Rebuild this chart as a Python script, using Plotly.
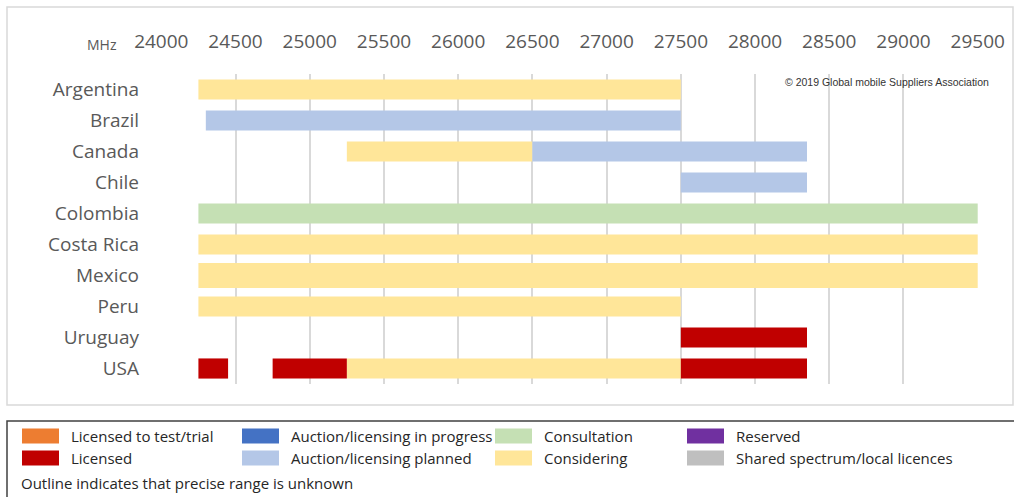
import plotly.graph_objects as go

countries = ["Argentina", "Brazil", "Canada", "Chile", "Colombia",
             "Costa Rica", "Mexico", "Peru", "Uruguay", "USA"]

# spectrum segments (MHz)
seg_country = ["Argentina", "Brazil", "Canada", "Canada", "Chile", "Colombia",
               "Costa Rica", "Mexico", "Peru", "Uruguay",
               "USA", "USA", "USA", "USA"]
seg_start = [24250, 24300, 25250, 26500, 27500, 24250,
             24250, 24250, 24250, 27500,
             24250, 24750, 25250, 27500]
seg_end = [27500, 27500, 26500, 28350, 28350, 29500,
           29500, 29500, 27500, 28350,
           24450, 25250, 27500, 28350]
seg_status = ["Considering", "Auction/licensing planned", "Considering",
              "Auction/licensing planned", "Auction/licensing planned",
              "Consultation", "Considering", "Considering", "Considering",
              "Licensed", "Licensed", "Licensed", "Considering", "Licensed"]

tick_vals = [24000, 24500, 25000, 25500, 26000, 26500, 27000,
             27500, 28000, 28500, 29000, 29500]

legend_labels = ["Licensed to test/trial", "Licensed",
                 "Auction/licensing in progress", "Auction/licensing planned",
                 "Consultation", "Considering",
                 "Reserved", "Shared spectrum/local licences"]
legend_colors = ["#ED7D31", "#C00000", "#4472C4", "#B4C7E7",
                 "#C5E0B4", "#FFE699", "#7030A0", "#BFBFBF"]
color_of = dict(zip(legend_labels, legend_colors))

W, H = 1014, 497
L, R, T, B = 161, 978, 74, 384
X0, X1 = 23998, 29502

fig = go.Figure()
for status in ["Considering", "Auction/licensing planned", "Consultation", "Licensed"]:
    idx = [i for i, s in enumerate(seg_status) if s == status]
    ys = [seg_country[i] for i in idx]
    fig.add_trace(go.Bar(
        orientation="h",
        y=ys,
        x=[seg_end[i] - seg_start[i] for i in idx],
        base=[seg_start[i] for i in idx],
        width=[0.8 if c == "Mexico" else 0.65 for c in ys],
        marker=dict(color=color_of[status], line=dict(width=0)),
        name=status,
        showlegend=False,
    ))


def px(x):
    return (x - L) / (R - L)


def py(y):
    return (B - y) / (B - T)


shapes = []
annotations = []
# chart border
shapes.append(dict(type="rect", xref="paper", yref="paper",
                   x0=px(7), x1=px(1013), y0=py(7), y1=py(405),
                   line=dict(color="#D9D9D9", width=1.5), layer="below"))
# legend box
shapes.append(dict(type="rect", xref="paper", yref="paper",
                   x0=px(7), x1=px(1016), y0=py(421), y1=py(530),
                   line=dict(color="#404040", width=1.5)))

col_x = [22, 242, 495, 687]
row_y = [436, 458]
for k, (lab, col) in enumerate(zip(legend_labels, legend_colors)):
    c, r = divmod(k, 2)
    sx, sy = col_x[c], row_y[r]
    shapes.append(dict(type="rect", xref="paper", yref="paper",
                       x0=px(sx), x1=px(sx + 37), y0=py(sy - 7.5), y1=py(sy + 7.5),
                       fillcolor=col, line=dict(width=0)))
    annotations.append(dict(xref="paper", yref="paper", x=px(sx + 47), y=py(sy),
                            xanchor="left", yanchor="middle", showarrow=False,
                            text=lab, font=dict(family="Open Sans", size=15, color="#262626")))
annotations.append(dict(xref="paper", yref="paper", x=px(19), y=py(483),
                        xanchor="left", yanchor="middle", showarrow=False,
                        text="Outline indicates that precise range is unknown",
                        font=dict(family="Open Sans", size=15, color="#262626")))
annotations.append(dict(xref="paper", yref="paper", x=px(119), y=py(44),
                        xanchor="right", yanchor="middle", showarrow=False,
                        text="MHz", font=dict(family="Open Sans", size=14, color="#595959")))
annotations.append(dict(xref="paper", yref="paper", x=px(783), y=py(82),
                        xanchor="left", yanchor="middle", showarrow=False,
                        text="© 2019 Global mobile Suppliers Association",
                        font=dict(family="Arial", size=10.5, color="#333333")))

fig.update_layout(
    width=W, height=H,
    margin=dict(l=L, r=W - R, t=T, b=H - B, pad=0, autoexpand=False),
    paper_bgcolor="white", plot_bgcolor="white",
    barmode="overlay",
    shapes=shapes, annotations=annotations,
    xaxis=dict(side="top", range=[X0, X1], tickvals=tick_vals,
               ticktext=[str(v) for v in tick_vals],
               showgrid=True, gridcolor="#D9D9D9", gridwidth=1.5,
               zeroline=False, showline=False, ticks="", automargin=False,
               ticklabelstandoff=21,
               tickfont=dict(family="Open Sans", size=19, color="#595959")),
    yaxis=dict(categoryorder="array", categoryarray=countries,
               range=[9.5, -0.5], showgrid=False, zeroline=False,
               showline=False, ticks="", ticklabelstandoff=21, automargin=False,
               tickfont=dict(family="Open Sans", size=19, color="#595959")),
    font=dict(family="Open Sans"),
)

fig.write_html("out.html")
